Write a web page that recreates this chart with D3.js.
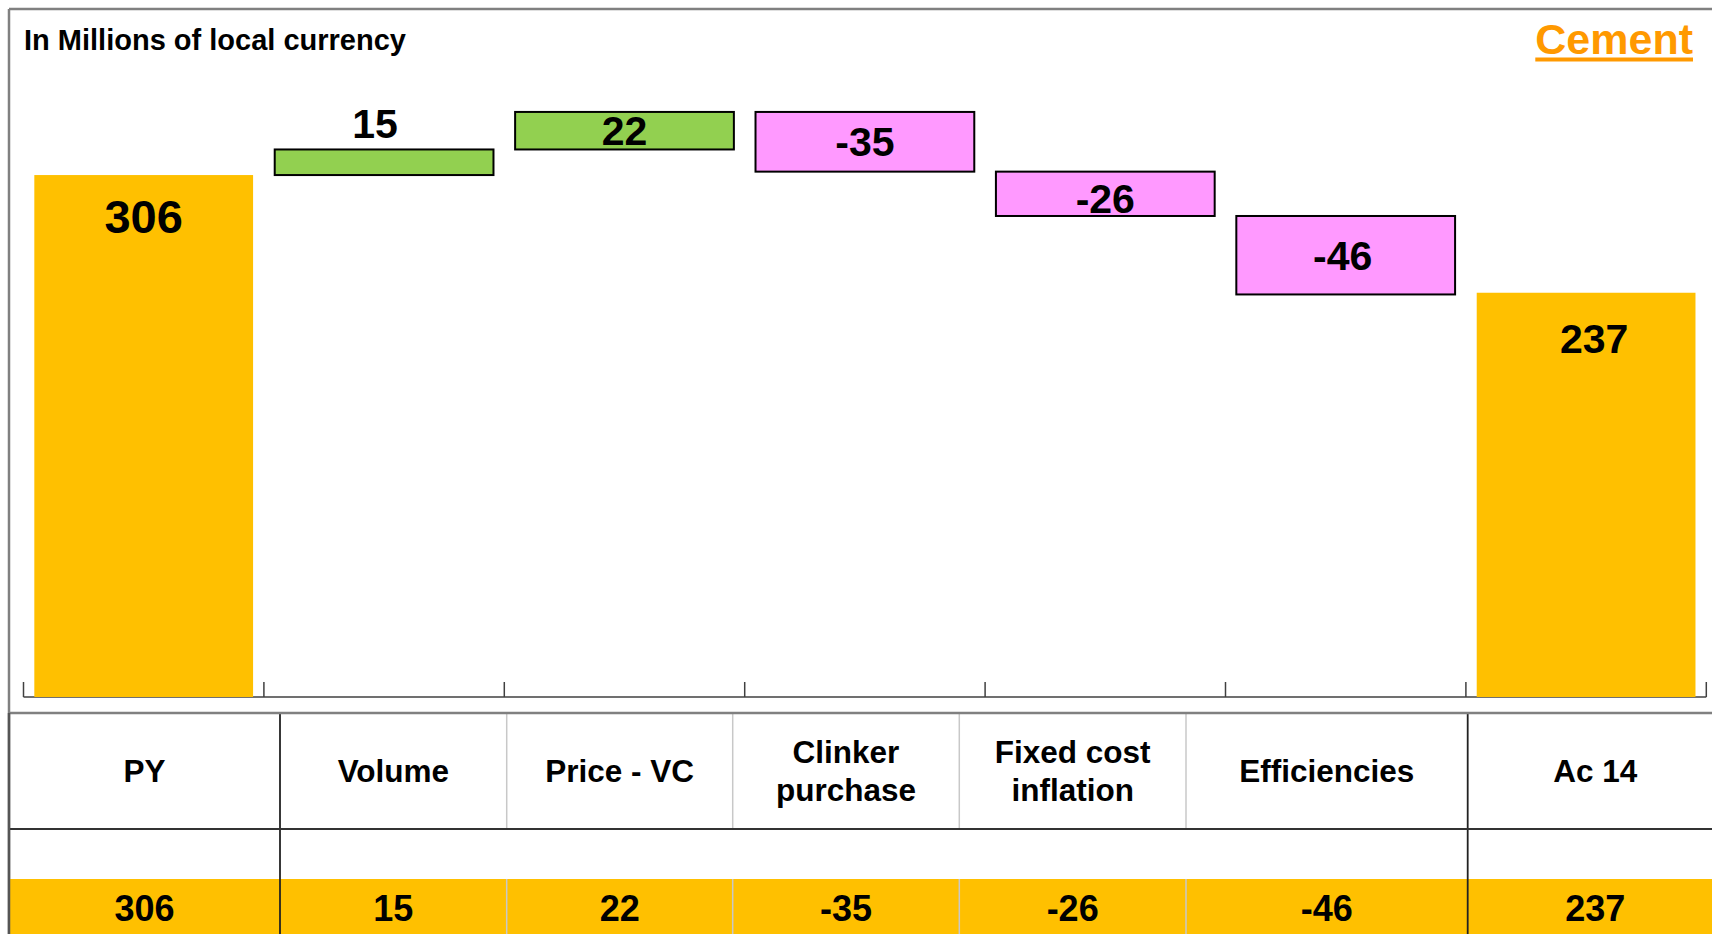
<!DOCTYPE html>
<html>
<head>
<meta charset="utf-8">
<script src="https://cdn.jsdelivr.net/npm/d3@7"></script>
<style>
  html, body { margin: 0; padding: 0; background: #fff; overflow: hidden; }
  svg { display: block; }
  text { font-family: "Liberation Sans", Arial, Helvetica, sans-serif; font-weight: bold; }
</style>
</head>
<body>
<svg id="chart" width="1712" height="934"></svg>
<script>
// Bridge from prior year to current actuals (millions of local currency)
const categories = ["PY", "Volume", "Price - VC", "Clinker purchase", "Fixed cost inflation", "Efficiencies", "Ac 14"];
const headerLines = [["PY"], ["Volume"], ["Price - VC"], ["Clinker", "purchase"], ["Fixed cost", "inflation"], ["Efficiencies"], ["Ac 14"]];
const values = [306, 15, 22, -35, -26, -46, 237];
const barKinds = ["total", "delta", "delta", "delta", "delta", "delta", "total"];
const titleText = "In Millions of local currency";
const segmentText = "Cement";

const W = 1712, H = 934;
const svg = d3.select("#chart");

const colors = { total: "#FFC000", up: "#92D050", down: "#FF99FF" };

// running totals for the waterfall
let running = 0;
const bars = values.map((v, i) => {
  let y0, y1;
  if (barKinds[i] === "total") { y0 = 0; y1 = v; running = v; }
  else { y0 = running; y1 = running + v; running += v; }
  return { cat: categories[i], value: v, kind: barKinds[i], y0, y1 };
});

// scales
const x = d3.scaleBand().domain(categories).range([23.5, 1706.3]).paddingInner(0.09).paddingOuter(0.045);
const y = d3.scaleLinear().domain([0, 350]).range([697, 100]);

// outer frame
svg.append("line").attr("x1", 9).attr("x2", W).attr("y1", 9).attr("y2", 9)
  .attr("stroke", "#808080").attr("stroke-width", 2.5);
svg.append("line").attr("x1", 9).attr("x2", 9).attr("y1", 9).attr("y2", H)
  .attr("stroke", "#808080").attr("stroke-width", 2.5);

// title and segment name
svg.append("text").attr("x", 24).attr("y", 50).attr("font-size", 29).attr("fill", "#000").text(titleText);
const seg = svg.append("text").attr("x", 1693).attr("y", 54).attr("text-anchor", "end")
  .attr("font-size", 43).attr("fill", "#FF9900").text(segmentText);
const sb = seg.node().getBBox();
svg.append("rect").attr("x", sb.x).attr("y", 57.5).attr("width", sb.width).attr("height", 4).attr("fill", "#FF9900");

// category axis: baseline with upward ticks at band boundaries
const base = y(0);
const r0 = x.range()[0], r1 = x.range()[1];
svg.append("line").attr("x1", r0).attr("x2", r1).attr("y1", base).attr("y2", base)
  .attr("stroke", "#404040").attr("stroke-width", 1.5);
svg.append("g").selectAll("line").data(d3.range(categories.length + 1)).join("line")
  .attr("x1", i => r0 + i * x.step()).attr("x2", i => r0 + i * x.step())
  .attr("y1", base).attr("y2", base - 15)
  .attr("stroke", "#404040").attr("stroke-width", 1.5);

// bars
svg.append("g").selectAll("rect").data(bars).join("rect")
  .attr("x", d => x(d.cat))
  .attr("width", x.bandwidth())
  .attr("y", d => y(Math.max(d.y0, d.y1)))
  .attr("height", d => Math.abs(y(d.y0) - y(d.y1)))
  .attr("fill", d => d.kind === "total" ? colors.total : (d.value >= 0 ? colors.up : colors.down))
  .attr("stroke", d => d.kind === "total" ? "none" : "#000")
  .attr("stroke-width", 2);

// bar value labels (small hand nudges keep the text where the layout tool left it)
const nudgeX = { "Volume": -9, "Efficiencies": -3, "Ac 14": 8 };
const nudgeY = { "Fixed cost inflation": 5, "Ac 14": 2 };
svg.append("g").selectAll("text").data(bars).join("text")
  .attr("text-anchor", "middle")
  .attr("fill", "#000")
  .attr("x", d => x(d.cat) + x.bandwidth() / 2 + (nudgeX[d.cat] || 0))
  .attr("font-size", (d, i) => i === 0 ? 47 : 41)
  .attr("y", (d, i) => {
    const top = y(Math.max(d.y0, d.y1));
    const bot = y(Math.min(d.y0, d.y1));
    const dy = nudgeY[d.cat] || 0;
    if (d.kind === "total") return top + 58 + dy;
    if (bot - top < 32) return top - 11 + dy;
    return (top + bot) / 2 + 0.358 * 41 + dy;
  })
  .text(d => d.value);

// data table below the chart
const tTop = 713, tHeadBot = 829, tValTop = 879;
const colEdges = [9, 280, 506.7, 732.7, 959.3, 1186, 1467.7, 1723];
const colMid = i => (colEdges[i] + colEdges[i + 1]) / 2;

svg.append("rect").attr("x", 9).attr("y", tValTop).attr("width", W - 9).attr("height", H - tValTop)
  .attr("fill", colors.total);

// light inner separators (header and value rows)
const inner = [2, 3, 4, 5];
[[tTop, tHeadBot], [tValTop, H]].forEach(([a, b]) => {
  svg.append("g").selectAll("line").data(inner).join("line")
    .attr("x1", i => colEdges[i]).attr("x2", i => colEdges[i])
    .attr("y1", a).attr("y2", b)
    .attr("stroke", "#C8C8C8").attr("stroke-width", 1.5);
});
// strong separators around the totals
svg.append("g").selectAll("line").data([1, 6]).join("line")
  .attr("x1", i => colEdges[i]).attr("x2", i => colEdges[i])
  .attr("y1", tTop).attr("y2", H)
  .attr("stroke", "#222").attr("stroke-width", 1.8);

svg.append("line").attr("x1", 9).attr("x2", W).attr("y1", tTop).attr("y2", tTop)
  .attr("stroke", "#808080").attr("stroke-width", 2.5);
svg.append("line").attr("x1", 9).attr("x2", W).attr("y1", tHeadBot).attr("y2", tHeadBot)
  .attr("stroke", "#333").attr("stroke-width", 1.8);
svg.append("line").attr("x1", 9).attr("x2", 9).attr("y1", tTop).attr("y2", H)
  .attr("stroke", "#555").attr("stroke-width", 2.5);

// header labels
const headMid = 781.7;
const hdr = svg.append("g").selectAll("text").data(headerLines).join("text")
  .attr("text-anchor", "middle").attr("font-size", 31.5).attr("fill", "#000");
hdr.each(function (lines, i) {
  const t = d3.select(this);
  const off = (lines.length - 1) * 19.2;
  lines.forEach((ln, k) => {
    t.append("tspan").attr("x", colMid(i)).attr("y", headMid - off + k * 38.4).text(ln);
  });
});

// value row
svg.append("g").selectAll("text").data(values).join("text")
  .attr("text-anchor", "middle").attr("font-size", 36).attr("fill", "#000")
  .attr("x", (d, i) => colMid(i)).attr("y", 921)
  .text(d => d);
</script>
</body>
</html>
